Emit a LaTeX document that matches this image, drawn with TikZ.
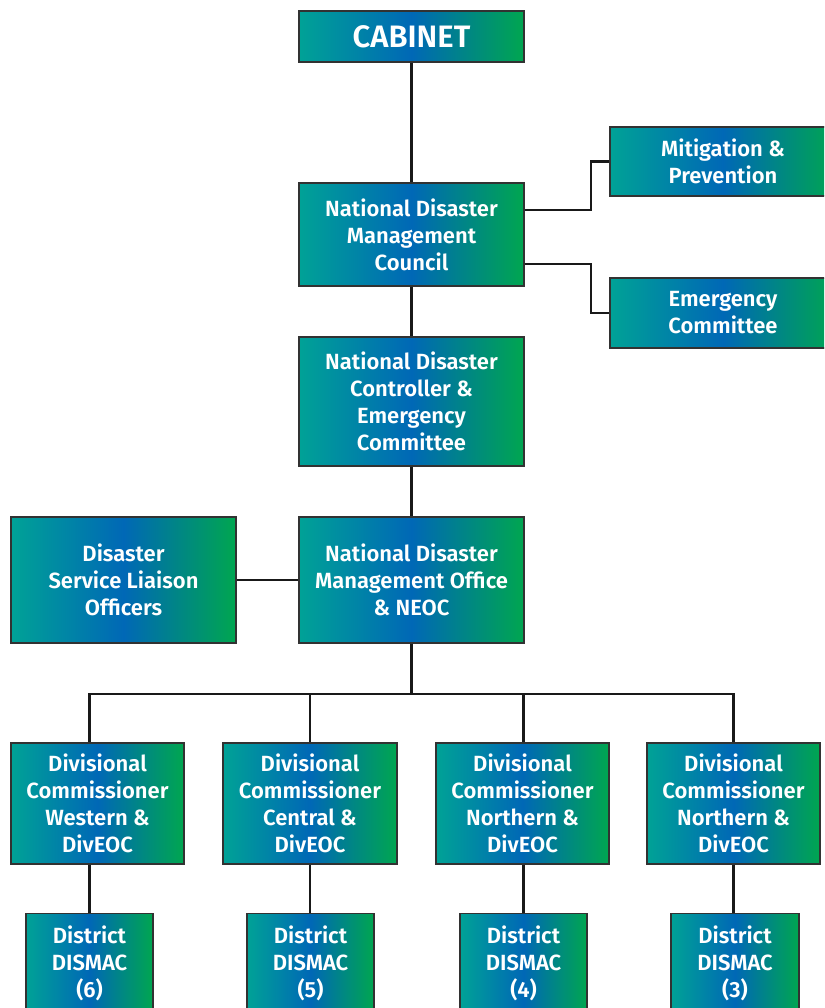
\documentclass[tikz,border=0pt]{standalone}
\usepackage{fontspec}
\setmainfont{Fira Sans}[BoldFont={Fira Sans SemiBold}]
\usetikzlibrary{positioning}
\definecolor{tealA}{RGB}{0,162,150}
\definecolor{blueB}{RGB}{0,104,182}
\definecolor{greenC}{RGB}{0,166,80}
\definecolor{edgegray}{RGB}{50,50,50}
\tikzset{
  unitbox/.style={draw=edgegray, line width=1.3pt, left color=tealA, right color=greenC, middle color=blueB,
    text=white, align=center, inner sep=0pt, font=\bfseries\fontsize{22}{27}\selectfont},
  link/.style={line width=2.8pt, black!90}
}
\begin{document}
\begin{tikzpicture}[x=1pt, y=-1pt]
  \clip (0,0) rectangle (824,1008);
  % top of the chain
  \node[unitbox, minimum width=225pt, minimum height=51pt, font=\bfseries\fontsize{31}{33}\selectfont] (cab) at (411.5,36.5) {CABINET};
  \node[unitbox, minimum width=225pt, minimum height=103pt] (ndmc) at (411.5,234.5) {National Disaster\\Management\\Council};
  \node[unitbox, minimum width=226pt, minimum height=69pt] (mit) at (723,161.5) {Mitigation \&\\Prevention};
  \node[unitbox, minimum width=226pt, minimum height=70pt] (emc) at (723,313) {Emergency\\Committee};
  \node[unitbox, minimum width=225pt, minimum height=129pt] (ndc) at (411.5,401.5) {National Disaster\\Controller \&\\Emergency\\Committee};
  \node[unitbox, minimum width=225pt, minimum height=126pt] (ndmo) at (411.5,580) {National Disaster\\Management Office\\\& NEOC};
  \node[unitbox, minimum width=225pt, minimum height=126pt] (dslo) at (123.5,580) {Disaster\\Service Liaison\\Officers};

  % divisions
  \node[unitbox, minimum width=173pt, minimum height=121pt] (divw) at (97.5,803.5) {Divisional\\Commissioner\\Western \&\\DivEOC};
  \node[unitbox, minimum width=174pt, minimum height=121pt] (divc) at (310,803.5) {Divisional\\Commissioner\\Central \&\\DivEOC};
  \node[unitbox, minimum width=173pt, minimum height=121pt] (divn) at (522.5,803.5) {Divisional\\Commissioner\\Northern \&\\DivEOC};
  \node[unitbox, minimum width=173pt, minimum height=121pt] (divx) at (733.5,803.5) {Divisional\\Commissioner\\Northern \&\\DivEOC};

  % districts
  \node[unitbox, minimum width=127pt, minimum height=100pt, anchor=north] (dis6) at (89.5,913) {District\\DISMAC\\(6)};
  \node[unitbox, minimum width=127pt, minimum height=100pt, anchor=north] (dis5) at (310.5,913) {District\\DISMAC\\(5)};
  \node[unitbox, minimum width=127pt, minimum height=100pt, anchor=north] (dis4) at (523.5,913) {District\\DISMAC\\(4)};
  \node[unitbox, minimum width=128pt, minimum height=100pt, anchor=north] (dis3) at (735,913) {District\\DISMAC\\(3)};

  % connectors
  \draw[link] (cab) -- (ndmc);
  \draw[link] (ndmc) -- (ndc);
  \draw[link] (ndc) -- (ndmo);
  \draw[link] (dslo) -- (ndmo);
  \draw[link] (ndmc.east |- 0,210) -| (591,210) |- (mit.west);
  \draw[link] (ndmc.east |- 0,264) -| (591,264) |- (emc.west);
  \coordinate (hub) at (411.5,694);
  \draw[link] (ndmo.south) -- (hub);
  \draw[link] (dis6.north |- divw.north) |- (hub) -| (divx.north);
  \draw[link] (divc.north |- hub) -- (divc.north);
  \draw[link] (dis4.north |- hub) -- (dis4.north |- divn.north);
  \draw[link] (dis6.north |- divw.south) -- (dis6.north);
  \draw[link] (divc.south) -- (divc.south |- dis5.north);
  \draw[link] (dis4.north |- divn.south) -- (dis4.north);
  \draw[link] (divx.south) -- (divx.south |- dis3.north);
\end{tikzpicture}
\end{document}
